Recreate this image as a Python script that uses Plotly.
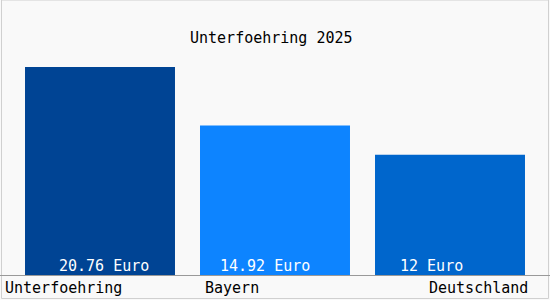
import plotly.graph_objects as go

categories = ["Unterfoehring", "Bayern", "Deutschland"]
values = [20.76, 14.92, 12.0]
value_labels = ["20.76 Euro", "14.92 Euro", "12 Euro"]
title_text = "Unterfoehring 2025"

colors = ["#004494", "#0d84ff", "#0066cc"]
FONT = "DejaVu Sans Mono"

x_idx = list(range(len(categories)))

fig = go.Figure(go.Bar(
    x=x_idx, y=values, marker=dict(color=colors, line=dict(width=0)),
    width=0.857, hoverinfo="skip",
))

annotations = []
# value labels inside bars near the bottom
label_shift = [4, -10, -19]
for i, (lab, sh) in enumerate(zip(value_labels, label_shift)):
    annotations.append(dict(x=i, y=0, xref="x", yref="y", text=lab, showarrow=False,
                            xanchor="center", yanchor="bottom", yshift=-2, xshift=sh,
                            font=dict(family=FONT, size=15, color="#ffffff")))
# category labels
anchors = ["left", "left", "right"]
offs = [-0.554, -0.412, 0.457]
for i, (cat, an, off) in enumerate(zip(categories, anchors, offs)):
    annotations.append(dict(x=i + off, y=0, xref="x", yref="y", text=cat, showarrow=False,
                            xanchor=an, yanchor="top", yshift=-2,
                            font=dict(family=FONT, size=15, color="#000000")))
# title
annotations.append(dict(x=0.493, y=(275 - 38) / 275, xref="paper", yref="paper", text=title_text,
                        showarrow=False, xanchor="center", yanchor="middle",
                        font=dict(family=FONT, size=15, color="#000000")))

fig.update_layout(
    width=550, height=300,
    margin=dict(l=0, r=0, t=0, b=25),
    paper_bgcolor="#f9f9f9", plot_bgcolor="#f9f9f9",
    showlegend=False,
    xaxis=dict(range=[-100 / 175, 450 / 175], showgrid=False, zeroline=False,
               showticklabels=False, ticks="", showline=True, linecolor="#999999",
               linewidth=1, fixedrange=True),
    yaxis=dict(range=[0, 275 / 10.02], showgrid=False, zeroline=False,
               showticklabels=False, ticks="", fixedrange=True),
    annotations=annotations,
    shapes=[dict(type="rect", xref="paper", yref="paper",
                 x0=1.5 / 550, x1=548.5 / 550, y0=-23.5 / 275, y1=1,
                 line=dict(color="#d0d0d0", width=1), fillcolor="rgba(0,0,0,0)",
                 layer="below")],
)

fig.write_html("out.html", config={"displayModeBar": False})
